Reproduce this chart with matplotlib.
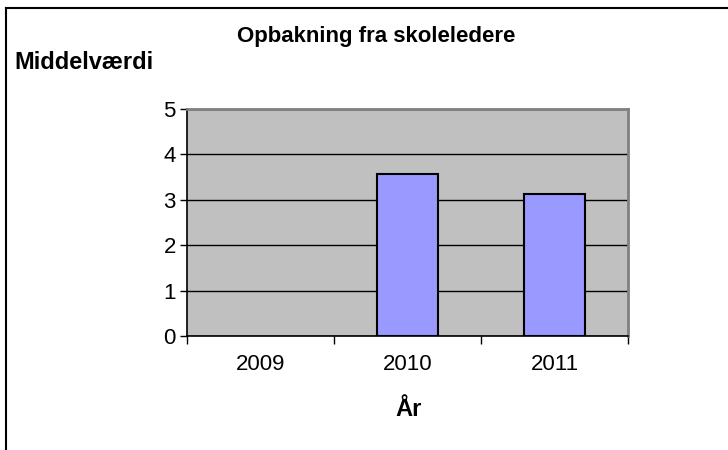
import numpy as np
import matplotlib
matplotlib.use("Agg")
import matplotlib.pyplot as plt
from matplotlib.lines import Line2D

plt.rcParams['font.family'] = ['Liberation Sans', 'DejaVu Sans']

years = ['2009', '2010', '2011']
values = [np.nan, 3.56, 3.13]
y_ticks = [0, 1, 2, 3, 4, 5]

fig = plt.figure(figsize=(7.28, 4.5), dpi=100)
ax = fig.add_axes([0.2569, 0.2533, 0.6057, 0.5044])
ax.set_facecolor('#C0C0C0')

x = np.arange(len(years))
ax.bar(x, values, width=0.41, color='#9999FF', edgecolor='black', linewidth=1.5, zorder=3)

ax.set_xlim(-0.5, len(years) - 0.5)
ax.set_ylim(0, 5)
ax.set_yticks(y_ticks)
ax.set_yticklabels([str(t) for t in y_ticks], fontsize=16)
ax.yaxis.grid(True, color='black', linewidth=1.0, zorder=1)
ax.set_axisbelow(True)
ax.tick_params(axis='y', direction='out', length=5, width=1, pad=3)

ax.set_xticks(x)
ax.set_xticklabels(years, fontsize=16)
ax.tick_params(axis='x', which='major', length=0, pad=13)
ax.set_xticks(np.arange(-0.5, len(years), 1.0), minor=True)
ax.tick_params(axis='x', which='minor', direction='out', length=6, width=1)

for side in ['left', 'bottom']:
    ax.spines[side].set_color('black')
    ax.spines[side].set_linewidth(1.2)
for side in ['top', 'right']:
    ax.spines[side].set_color('#808080')
    ax.spines[side].set_linewidth(2)

fig.text(0.517, 0.918, 'Opbakning fra skoleledere', ha='center', va='center',
         fontsize=16, fontweight='bold')
fig.text(0.020, 0.862, 'Middelværdi', ha='left', va='center',
         fontsize=17, fontweight='bold')
fig.text(0.561, 0.089, 'År', ha='center', va='center',
         fontsize=17, fontweight='bold')

# outer chart frame (top and left edges visible)
fig.add_artist(Line2D([5.5 / 728, 1], [1 - 8 / 450, 1 - 8 / 450], color='black', lw=1.5,
                      transform=fig.transFigure))
fig.add_artist(Line2D([5.5 / 728, 5.5 / 728], [0, 1 - 8 / 450], color='black', lw=1.5,
                      transform=fig.transFigure))

fig.savefig('out.png', dpi=100)
